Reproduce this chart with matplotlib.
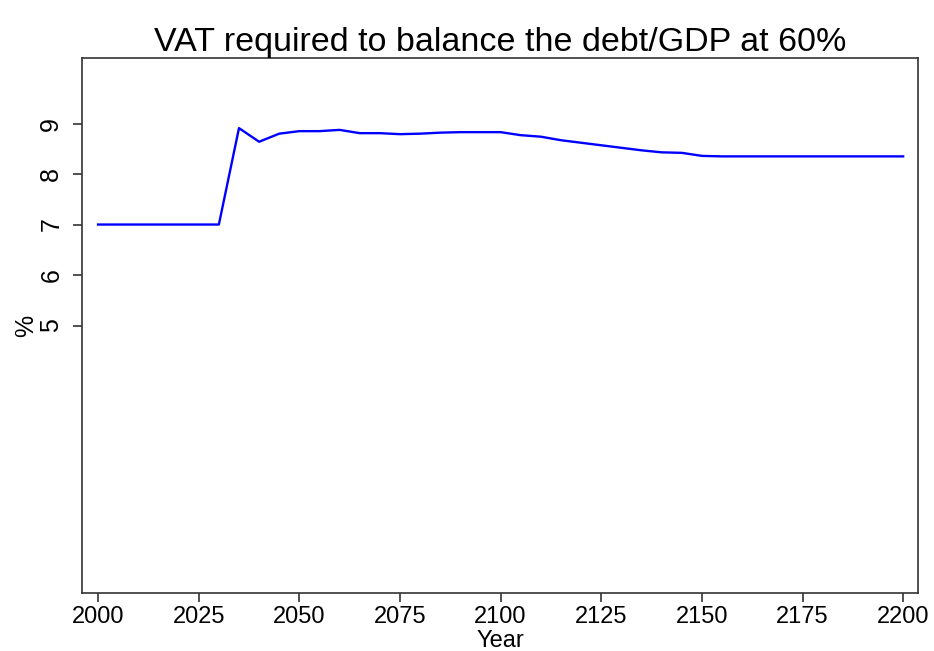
import matplotlib
matplotlib.use('Agg')
import matplotlib.pyplot as plt

plt.rcParams['font.family'] = ['Liberation Sans', 'DejaVu Sans']

# VAT rate needed (5-year steps)
years = list(range(2000, 2205, 5))
vat = [7.0, 7.0, 7.0, 7.0, 7.0, 7.0, 7.0,
       8.91, 8.64, 8.80, 8.85, 8.85, 8.875, 8.81, 8.81, 8.79,
       8.80, 8.82, 8.83, 8.83, 8.83, 8.77, 8.74, 8.67, 8.62,
       8.57, 8.52, 8.47, 8.43, 8.42, 8.36, 8.35, 8.35, 8.35,
       8.35, 8.35, 8.35, 8.35, 8.35, 8.35, 8.35]
xticks = [2000, 2025, 2050, 2075, 2100, 2125, 2150, 2175, 2200]
yticks = [5, 6, 7, 8, 9]

fig = plt.figure(figsize=(9.34, 6.51), dpi=100)
ax = fig.add_axes([0.0878, 0.089, 0.8951, 0.822])

ax.plot(years, vat, color='#0000ff', linewidth=1.7)

ax.set_xlim(1996, 2203.7)
ax.set_ylim(-0.3, 10.3)
ax.set_xticks(xticks)
ax.set_yticks(yticks)
ax.set_yticklabels([str(t) for t in yticks], rotation=90, va='center')
ax.tick_params(direction='out', length=6.5, width=1.2, color='#333333')
ax.tick_params(axis='x', labelsize=17, pad=3)
ax.tick_params(axis='y', labelsize=18, pad=7)

for s in ax.spines.values():
    s.set_linewidth(1.2)
    s.set_color('#333333')

ax.set_title('VAT required to balance the debt/GDP at 60%', fontsize=24.5, pad=5)
ax.set_xlabel('Year', fontsize=17, labelpad=1)
ax.set_ylabel('%', fontsize=18, labelpad=1)

fig.savefig('out.png', dpi=100)
